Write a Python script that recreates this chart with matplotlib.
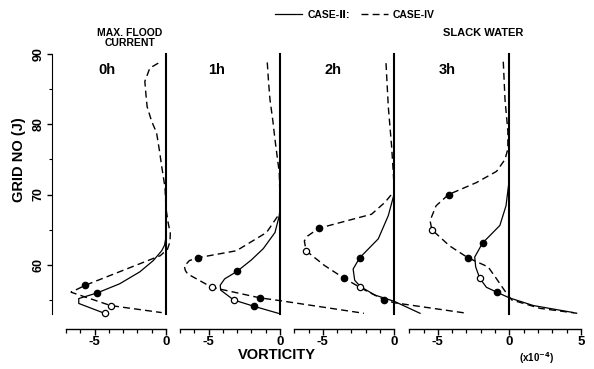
import matplotlib
matplotlib.use("Agg")
import matplotlib.pyplot as plt
import numpy as np

plt.rcParams['font.family'] = ['Liberation Sans', 'DejaVu Sans']
plt.rcParams['font.weight'] = 'bold'
plt.rcParams['axes.unicode_minus'] = False

# vorticity (x1e-4) and grid number J, one pair per case and panel
hours = ['0h', '1h', '2h', '3h']

v_case2_0h = [0, 0, -0.1, -0.3, -0.89, -1.83, -3.24, -4.81, -6.1, -6.1, -4.3]
j_case2_0h = [68, 64, 62.8, 62.0, 60.6, 59.0, 57.3, 56.0, 55.2, 54.5, 53.1]
v_case4_0h = [-0.54, -1.13, -1.48, -1.41, -1.32, -1.0, -0.66, -0.47, -0.3, -0.07,
              0.0, 0.15, 0.3, 0.28, 0.1, -0.4, -5.63, -6.64, -3.87, -0.3]
j_case4_0h = [88.7, 88.0, 86.1, 84.4, 82.5, 80.4, 78.8, 76.4, 74.0, 71.0,
              68.0, 66.0, 64.5, 63.3, 62.2, 61.3, 57.1, 56.1, 54.2, 53.2]

v_case2_1h = [0, -0.05, -0.35, -1.17, -2.0, -2.98, -3.87, -4.18, -4.15, -3.24, -1.83, -0.12]
j_case2_1h = [68, 67, 64.6, 62.3, 60.7, 59.1, 58.0, 57.1, 56.4, 55.0, 54.1, 53.1]
v_case4_1h = [-0.89, -0.8, -0.7, -0.5, -0.35, -0.05, 0.0, 0.0, -0.94, -3.05,
              -5.75, -6.34, -6.69, -6.62, -6.46, -4.77, -1.41, 0.0, 5.87]
j_case4_1h = [88.8, 86.0, 83.5, 80.5, 77.8, 73.1, 69.3, 67.4, 64.6, 62.0,
              61.0, 60.6, 59.8, 59.2, 58.7, 56.8, 55.3, 54.9, 53.1]

v_case2_2h = [0, -0.05, -0.42, -1.12, -2.42, -2.88, -2.77, -2.37, -1.36, 0.0, 1.8]
j_case2_2h = [72, 69.8, 67.0, 63.7, 61.0, 59.4, 57.8, 56.9, 55.7, 54.8, 53.1]
v_case4_2h = [-0.58, -0.42, -0.19, -0.07, 0.0, -0.65, -1.59, -5.28, -6.06, -6.29,
              -6.17, -4.88, -3.52, -2.06, -0.7, 0.0, 5.1]
j_case4_2h = [88.7, 82.5, 76.9, 73.1, 70.5, 68.9, 67.2, 65.2, 64.1, 63.4,
              62.0, 59.9, 58.1, 56.4, 55.0, 54.6, 53.1]

v_case2_3h = [0, -0.23, -0.66, -1.87, -2.42, -2.35, -2.07, -1.6, -0.87, 0.0, 1.69, 4.5]
j_case2_3h = [72.2, 68.4, 65.6, 63.1, 61.1, 59.7, 58.1, 56.8, 56.1, 55.3, 54.2, 53.2]
v_case4_3h = [-0.42, -0.3, -0.1, -0.1, -0.3, -0.89, -2.3, -4.25, -5.12, -5.54,
              -5.42, -4.18, -2.89, -1.48, -0.89, -0.18, 0.17, 2.16, 4.75]
j_case4_3h = [88.9, 83.5, 79.0, 76.5, 75.0, 73.3, 71.7, 70.0, 68.4, 66.3,
              65.0, 62.7, 61.0, 59.7, 58.0, 55.9, 55.0, 53.8, 53.1]

# which points carry a filled / open circle
filled_case2 = [[7], [5, 10], [4], [3, 8]]
open_case2 = [[10], [9], [7], [6]]
filled_case4 = [[16], [10, 16], [7, 12, 14], [7, 12]]
open_case4 = [[18], [15], [10], [10]]

case2 = [(v_case2_0h, j_case2_0h), (v_case2_1h, j_case2_1h),
         (v_case2_2h, j_case2_2h), (v_case2_3h, j_case2_3h)]
case4 = [(v_case4_0h, j_case4_0h), (v_case4_1h, j_case4_1h),
         (v_case4_2h, j_case4_2h), (v_case4_3h, j_case4_3h)]
x_right = [0, 0, 0, 5]

W, H = 594, 369
fig = plt.figure(figsize=(W / 100, H / 100), dpi=100)

def px(x, y):
    return x / W, 1 - y / H

unit = 14.3
zeros_px = [166, 280, 394.3, 509.3]
top_px, bot_px = 54, 314

axes = []
for k in range(4):
    left = zeros_px[k] - 7 * unit
    width = (7 + x_right[k]) * unit
    ax = fig.add_axes([left / W, 1 - bot_px / H, width / W, (bot_px - top_px) / H])
    ax.patch.set_alpha(0)
    ax.set_xlim(-7, x_right[k])
    ax.set_ylim(53, 90)
    axes.append(ax)

    ax.axvline(0, color='black', lw=1.5, zorder=1, clip_on=False)

    vs, js = map(np.array, case2[k])
    vd, jd = map(np.array, case4[k])
    l2, = ax.plot(vs, js, color='black', lw=0.9, clip_on=False)
    l4, = ax.plot(vd, jd, color='black', lw=1.0, dashes=(5, 3), clip_on=False)
    for v, j, idx_f, idx_o in [(vs, js, filled_case2[k], open_case2[k]),
                               (vd, jd, filled_case4[k], open_case4[k])]:
        ax.plot(v[idx_f], j[idx_f], 'o', ms=4.5, color='black', clip_on=False, zorder=3)
        ax.plot(v[idx_o], j[idx_o], 'o', ms=4.5, mfc='white', mec='black', mew=0.9,
                clip_on=False, zorder=3)

    for s in ['top', 'right', 'left']:
        ax.spines[s].set_visible(False)
    ax.spines['bottom'].set_position(('outward', 11))
    ax.spines['bottom'].set_linewidth(1.0)
    ax.set_xticks([t for t in [-5, 0, 5] if t <= x_right[k]])
    ax.set_xticks(np.arange(-7, x_right[k] + 1), minor=True)
    ax.tick_params(axis='x', which='major', direction='out', length=4.5, width=1,
                   labelsize=9.5, pad=0.5)
    ax.tick_params(axis='x', which='minor', direction='out', length=3, width=0.9)
    ax.set_yticks([])

    fig.text(*px([107, 217, 333, 447][k], 70), hours[k], fontsize=10.5,
             ha='center', va='center')

# y axis only on the first panel
ax = axes[0]
ax.spines['left'].set_visible(True)
ax.spines['left'].set_position(('outward', 10))
ax.set_yticks([60, 70, 80, 90])
ax.set_yticks([55, 65, 75, 85], minor=True)
ax.set_yticklabels(['60', '70', '80', '90'], rotation=90, va='center')
ax.tick_params(axis='y', which='major', direction='out', length=3.5, width=1,
               labelsize=9, pad=2)
ax.tick_params(axis='y', which='minor', direction='out', length=2, width=0.8)

fig.text(*px(19, 160), 'GRID NO (J)', rotation=90, fontsize=10.5, ha='center', va='center')
fig.text(*px(277, 355), 'VORTICITY', fontsize=10.5, ha='center', va='center')
fig.text(*px(537, 358), r'(x10$^{-4}$)', fontsize=7, ha='center', va='center')
fig.text(*px(130, 38), 'MAX. FLOOD\nCURRENT', fontsize=7.5, ha='center', va='center',
         linespacing=1.0)
fig.text(*px(483, 33), 'SLACK WATER', fontsize=8, ha='center', va='center')

fig.legend([l2, l4], ['CASE-Ⅱ:', 'CASE-IV'], ncol=2, frameon=False,
           loc='center', bbox_to_anchor=px(355, 15), fontsize=7.5,
           handlelength=2.6, columnspacing=1.0, handletextpad=0.5)

fig.savefig('out.png', dpi=100)
